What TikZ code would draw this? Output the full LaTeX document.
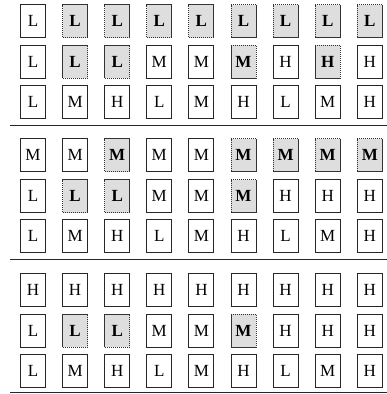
\documentclass[tikz,border=0pt]{standalone}
\usepackage{fontspec}
\setmainfont{Liberation Serif}
\newcommand{\myrow}[3]{%
  \foreach \t/\s [count=\c] in {#3} {
    \pgfmathsetmacro{\xx}{33+42.1*(\c-1)}
    \ifnum\s=1
      \node[shaded] (b-#1-\c) at (\xx,#2) {\t};
    \else
      \node[cell] (b-#1-\c) at (\xx,#2) {\t};
    \fi
  }}
\begin{document}
\begin{tikzpicture}[x=1pt,y=-1pt,
  cell/.style={draw=black!85,line width=1pt,minimum width=25pt,minimum height=33pt,inner sep=0pt,font=\fontsize{17}{17}\selectfont},
  shaded/.style={cell,fill=black!13,draw=black!80,dash pattern=on 1.5pt off 0.5pt,font=\fontsize{17}{17}\selectfont\bfseries},
  sep/.style={line width=1pt,draw=black!85}]
\useasboundingbox (0,0) rectangle (387,394);
\myrow{1}{21}{L/0,L/1,L/1,L/1,L/1,L/1,L/1,L/1,L/1}
\myrow{2}{61.5}{L/0,L/1,L/1,M/0,M/0,M/1,H/0,H/1,H/0}
\myrow{3}{101.5}{L/0,M/0,H/0,L/0,M/0,H/0,L/0,M/0,H/0}
\myrow{4}{155}{M/0,M/0,M/1,M/0,M/0,M/1,M/1,M/1,M/1}
\myrow{5}{196}{L/0,L/1,L/1,M/0,M/0,M/1,H/0,H/0,H/0}
\myrow{6}{236}{L/0,M/0,H/0,L/0,M/0,H/0,L/0,M/0,H/0}
\myrow{7}{290}{H/0,H/0,H/0,H/0,H/0,H/0,H/0,H/0,H/0}
\myrow{8}{330.5}{L/0,L/1,L/1,M/0,M/0,M/1,H/0,H/0,H/0}
\myrow{9}{371}{L/0,M/0,H/0,L/0,M/0,H/0,L/0,M/0,H/0}
\coordinate (l1a) at (10,125); \coordinate (l1b) at (387,125);
\coordinate (l2a) at (10,259); \coordinate (l2b) at (387,259);
\coordinate (l3a) at (10,392.5); \coordinate (l3b) at (387,392.5);
\draw[sep] (l1a) -- (l1b);
\draw[sep] (l2a) -- (l2b);
\draw[sep] (l3a) -- (l3b);
\end{tikzpicture}
\end{document}
